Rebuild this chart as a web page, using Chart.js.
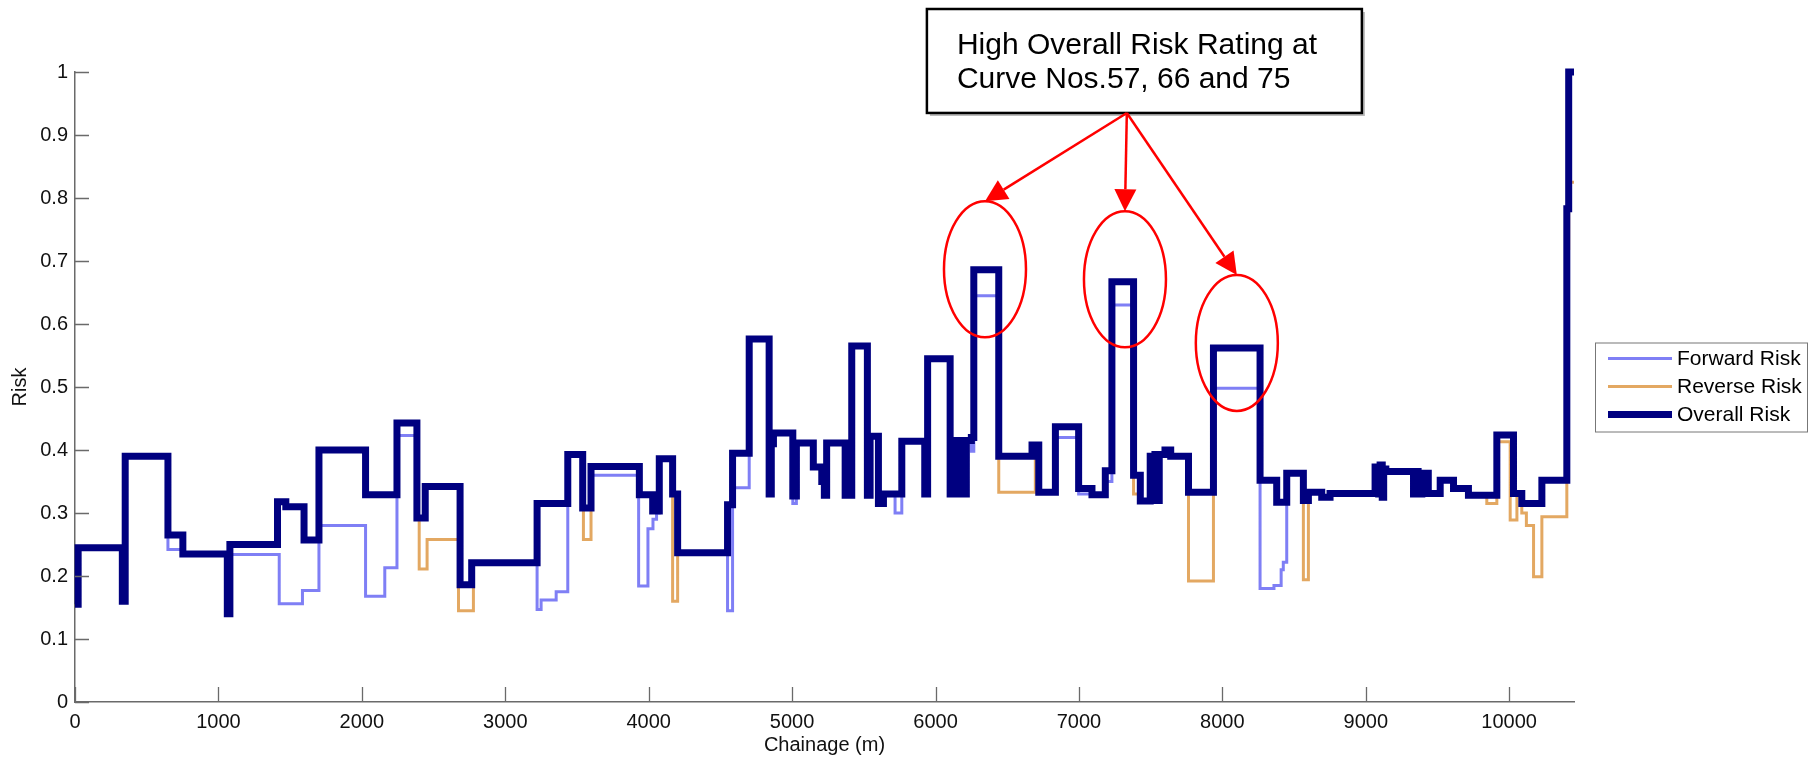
<!DOCTYPE html>
<html>
<head>
<meta charset="utf-8">
<script src="https://cdn.jsdelivr.net/npm/chart.js@4.4.1/dist/chart.umd.min.js"></script>
<style>
html,body{margin:0;padding:0;background:#ffffff;}
canvas{display:block;}
</style>
</head>
<body>
<canvas id="c" width="1817" height="759"></canvas>
<script>
// ---------------- data ----------------
const xTicks = [0, 1000, 2000, 3000, 4000, 5000, 6000, 7000, 8000, 9000, 10000];
const yTicks = [0, 0.1, 0.2, 0.3, 0.4, 0.5, 0.6, 0.7, 0.8, 0.9, 1];
const chainageEnd = 10452;
const seriesNames = ['Forward Risk', 'Reverse Risk', 'Overall Risk'];

// Forward risk: chainage where each step starts, and its value
const fwdX = [0, 22, 330, 350, 648, 752, 1062, 1080, 1424, 1586, 1701, 2026, 2160, 2245, 2384, 2442, 2685, 2766, 3222, 3250, 3355, 3436, 3540, 3598, 3930, 3995, 4030, 4055, 4074, 4167, 4202, 4550, 4585, 4701, 4840, 4855, 4870, 5005, 5030, 5148, 5207, 5225, 5241, 5370, 5416, 5525, 5544, 5602, 5637, 5718, 5765, 5925, 5945, 6102, 6120, 6140, 6160, 6195, 6215, 6250, 6267, 6441, 6673, 6720, 6836, 6998, 7091, 7184, 7230, 7381, 7428, 7497, 7510, 7530, 7545, 7560, 7600, 7640, 7764, 7938, 8263, 8360, 8410, 8425, 8449, 8565, 8600, 8693, 8751, 9065, 9090, 9100, 9115, 9125, 9140, 9333, 9350, 9365, 9391, 9436, 9519, 9612, 9716, 9914, 10030, 10088, 10228, 10402, 10415, 10452];
const fwdY = [0.155, 0.245, 0.16, 0.39, 0.242, 0.235, 0.14, 0.234, 0.156, 0.177, 0.28, 0.168, 0.213, 0.423, 0.292, 0.342, 0.186, 0.221, 0.147, 0.162, 0.175, 0.393, 0.308, 0.36, 0.184, 0.275, 0.29, 0.30, 0.386, 0.33, 0.237, 0.145, 0.34, 0.576, 0.33, 0.41, 0.427, 0.315, 0.411, 0.373, 0.35, 0.328, 0.411, 0.328, 0.565, 0.328, 0.422, 0.315, 0.33, 0.30, 0.414, 0.33, 0.545, 0.33, 0.415, 0.33, 0.415, 0.33, 0.415, 0.398, 0.645, 0.39, 0.408, 0.333, 0.42, 0.33, 0.329, 0.35, 0.63, 0.36, 0.319, 0.39, 0.33, 0.393, 0.32, 0.393, 0.40, 0.39, 0.333, 0.498, 0.18, 0.185, 0.21, 0.222, 0.363, 0.32, 0.333, 0.325, 0.331, 0.373, 0.33, 0.376, 0.325, 0.37, 0.366, 0.33, 0.366, 0.33, 0.363, 0.331, 0.352, 0.339, 0.328, 0.424, 0.331, 0.315, 0.352, 0.783, 1.0, 1.0];

// Reverse risk
const revX = [0, 22, 330, 350, 648, 752, 1062, 1080, 1412, 1470, 1597, 1701, 2026, 2245, 2384, 2400, 2455, 2674, 2778, 3222, 3436, 3545, 3598, 3935, 4028, 4074, 4167, 4202, 4550, 4585, 4701, 4840, 4855, 4870, 5005, 5030, 5148, 5207, 5225, 5241, 5370, 5416, 5525, 5544, 5602, 5637, 5765, 5925, 5945, 6102, 6120, 6140, 6160, 6195, 6215, 6250, 6267, 6441, 6696, 6720, 6836, 6998, 7091, 7184, 7230, 7381, 7428, 7497, 7510, 7530, 7545, 7560, 7600, 7640, 7764, 7938, 8263, 8379, 8449, 8565, 8600, 8693, 8751, 9065, 9090, 9100, 9115, 9125, 9140, 9333, 9350, 9365, 9391, 9436, 9519, 9612, 9716, 9844, 9914, 10007, 10054, 10088, 10120, 10170, 10228, 10402, 10415, 10452];
const revY = [0.155, 0.245, 0.16, 0.39, 0.265, 0.235, 0.14, 0.25, 0.318, 0.31, 0.257, 0.40, 0.329, 0.443, 0.292, 0.211, 0.258, 0.145, 0.221, 0.315, 0.393, 0.258, 0.374, 0.329, 0.303, 0.386, 0.16, 0.237, 0.313, 0.395, 0.576, 0.33, 0.41, 0.427, 0.327, 0.411, 0.373, 0.35, 0.328, 0.411, 0.328, 0.565, 0.328, 0.422, 0.315, 0.33, 0.414, 0.33, 0.545, 0.33, 0.415, 0.33, 0.415, 0.33, 0.415, 0.42, 0.686, 0.333, 0.408, 0.333, 0.437, 0.339, 0.329, 0.367, 0.667, 0.33, 0.319, 0.39, 0.33, 0.393, 0.32, 0.393, 0.40, 0.39, 0.192, 0.562, 0.352, 0.317, 0.363, 0.194, 0.333, 0.325, 0.331, 0.373, 0.33, 0.376, 0.325, 0.37, 0.366, 0.33, 0.366, 0.33, 0.363, 0.331, 0.352, 0.339, 0.328, 0.315, 0.413, 0.289, 0.331, 0.30, 0.28, 0.199, 0.294, 0.72, 0.825, 0.825];

// Overall risk
const allX = [0, 22, 330, 350, 648, 752, 1062, 1080, 1412, 1470, 1597, 1701, 2026, 2245, 2384, 2442, 2685, 2766, 3222, 3436, 3540, 3598, 3935, 4028, 4074, 4167, 4202, 4550, 4585, 4701, 4840, 4855, 4870, 5005, 5030, 5148, 5207, 5225, 5241, 5370, 5416, 5525, 5544, 5602, 5637, 5765, 5925, 5945, 6102, 6120, 6140, 6160, 6195, 6215, 6250, 6267, 6441, 6673, 6720, 6836, 6998, 7091, 7184, 7230, 7381, 7428, 7497, 7510, 7530, 7545, 7560, 7600, 7640, 7764, 7938, 8263, 8379, 8449, 8565, 8600, 8693, 8751, 9065, 9090, 9100, 9115, 9125, 9140, 9333, 9350, 9365, 9391, 9436, 9519, 9612, 9716, 9914, 10030, 10088, 10228, 10402, 10415, 10452];
const allY = [0.155, 0.245, 0.16, 0.39, 0.265, 0.235, 0.14, 0.25, 0.318, 0.31, 0.257, 0.40, 0.329, 0.443, 0.292, 0.342, 0.186, 0.221, 0.315, 0.393, 0.308, 0.374, 0.329, 0.303, 0.386, 0.33, 0.237, 0.313, 0.395, 0.576, 0.33, 0.41, 0.427, 0.327, 0.411, 0.373, 0.35, 0.328, 0.411, 0.328, 0.565, 0.328, 0.422, 0.315, 0.33, 0.414, 0.33, 0.545, 0.33, 0.415, 0.33, 0.415, 0.33, 0.415, 0.42, 0.686, 0.39, 0.408, 0.333, 0.437, 0.339, 0.329, 0.367, 0.667, 0.36, 0.319, 0.39, 0.33, 0.393, 0.32, 0.393, 0.40, 0.39, 0.333, 0.562, 0.352, 0.317, 0.363, 0.32, 0.333, 0.325, 0.331, 0.373, 0.33, 0.376, 0.325, 0.37, 0.366, 0.33, 0.366, 0.33, 0.363, 0.331, 0.352, 0.339, 0.328, 0.424, 0.331, 0.315, 0.352, 0.783, 1.0, 1.0];

// annotation text and the chainage/risk points it refers to
const calloutLines = ['High Overall Risk Rating at', 'Curve Nos.57, 66 and 75'];
const calloutCentres = [{x: 6345, y: 0.687}, {x: 7321, y: 0.671}, {x: 8101, y: 0.570}];

// ---------------- styling ----------------
const FONT = '"Liberation Sans", Arial, Helvetica, sans-serif';
const AXIS = '#6a6a6a';
const COLORS = ['#7f7ff5', '#e3a862', '#000080'];
const WIDTHS = [3, 3, 7];
const noteLayout = {
  boxLeft: 5940, boxRight: 8973, boxTop: 1.1, boxBottom: 0.935, arrowFromX: 7334,
  rx: 41, ry: 68
};

const toPts = (xs, ys) => xs.map((v, i) => ({x: v, y: ys[i]}));

const overlay = {
  id: 'overlay',
  afterDatasetsDraw(chart) {
    const {ctx, chartArea: ca, scales: {x, y}} = chart;
    ctx.save();
    // inward tick marks
    ctx.strokeStyle = AXIS;
    ctx.lineWidth = 1.3;
    ctx.beginPath();
    xTicks.forEach(t => {
      const px = Math.round(x.getPixelForValue(t)) + 0.5;
      ctx.moveTo(px, ca.bottom); ctx.lineTo(px, ca.bottom - 15);
    });
    yTicks.forEach(t => {
      const py = Math.round(y.getPixelForValue(t)) + 0.5;
      ctx.moveTo(ca.left, py); ctx.lineTo(ca.left + 14, py);
    });
    ctx.stroke();

    // callout box
    const bx = x.getPixelForValue(noteLayout.boxLeft), bx2 = x.getPixelForValue(noteLayout.boxRight);
    const by = y.getPixelForValue(noteLayout.boxTop), by2 = y.getPixelForValue(noteLayout.boxBottom);
    ctx.fillStyle = 'rgba(0,0,0,0.28)';
    ctx.fillRect(bx + 3, by + 3, bx2 - bx, by2 - by);
    ctx.fillStyle = '#ffffff';
    ctx.fillRect(bx, by, bx2 - bx, by2 - by);
    ctx.lineWidth = 2.5;
    ctx.strokeStyle = '#000000';
    ctx.strokeRect(bx, by, bx2 - bx, by2 - by);
    ctx.fillStyle = '#000000';
    ctx.font = '30px ' + FONT;
    ctx.textBaseline = 'alphabetic';
    ctx.textAlign = 'left';
    ctx.fillText(calloutLines[0], bx + 30, by + 45);
    ctx.fillText(calloutLines[1], bx + 30, by + 79);

    // ellipses and arrows
    const ox = x.getPixelForValue(noteLayout.arrowFromX), oy = by2;
    ctx.strokeStyle = '#ff0000';
    ctx.fillStyle = '#ff0000';
    ctx.lineWidth = 2.5;
    calloutCentres.forEach(c => {
      const cx = x.getPixelForValue(c.x), cy = y.getPixelForValue(c.y);
      ctx.beginPath();
      ctx.ellipse(cx, cy, noteLayout.rx, noteLayout.ry, 0, 0, Math.PI * 2);
      ctx.stroke();
      const tx = cx, ty = cy - noteLayout.ry;
      const ang = Math.atan2(ty - oy, tx - ox);
      const hl = 22, hw = 11;
      const bxp = tx - hl * Math.cos(ang), byp = ty - hl * Math.sin(ang);
      ctx.beginPath();
      ctx.moveTo(ox, oy); ctx.lineTo(bxp, byp);
      ctx.stroke();
      ctx.beginPath();
      ctx.moveTo(tx, ty);
      ctx.lineTo(bxp + hw * Math.sin(ang), byp - hw * Math.cos(ang));
      ctx.lineTo(bxp - hw * Math.sin(ang), byp + hw * Math.cos(ang));
      ctx.closePath();
      ctx.fill();
    });

    // legend
    const lw = 212, lh = 89;
    const lx = ca.right + 21, ly = (ca.top + ca.bottom) / 2 - lh / 2;
    ctx.fillStyle = '#ffffff';
    ctx.fillRect(lx, ly, lw, lh);
    ctx.strokeStyle = '#777777';
    ctx.lineWidth = 1;
    ctx.strokeRect(lx + 0.5, ly + 0.5, lw, lh);
    ctx.font = '21px ' + FONT;
    ctx.textBaseline = 'middle';
    seriesNames.forEach((name, i) => {
      const ry = ly + 16 + i * 28;
      ctx.strokeStyle = COLORS[i];
      ctx.lineWidth = WIDTHS[i];
      ctx.beginPath();
      ctx.moveTo(lx + 13, ry); ctx.lineTo(lx + 77, ry);
      ctx.stroke();
      ctx.fillStyle = '#000000';
      ctx.fillText(name, lx + 82, ry + 1);
    });
    ctx.restore();
  }
};

const mkSet = (i, xs, ys, order) => ({
  label: seriesNames[i],
  data: toPts(xs, ys),
  borderColor: COLORS[i],
  backgroundColor: COLORS[i],
  borderWidth: WIDTHS[i],
  stepped: 'before',
  pointRadius: 0,
  fill: false,
  clip: false,
  borderJoinStyle: 'miter',
  borderCapStyle: 'butt',
  order: order
});

new Chart(document.getElementById('c'), {
  type: 'line',
  data: {
    datasets: [
      mkSet(0, fwdX, fwdY, 2),
      mkSet(1, revX, revY, 1),
      mkSet(2, allX, allY, 0)
    ]
  },
  options: {
    responsive: false,
    devicePixelRatio: 1,
    animation: false,
    layout: {padding: {left: 0, right: 243, top: 72, bottom: 0}},
    plugins: {legend: {display: false}, tooltip: {enabled: false}},
    scales: {
      x: {
        type: 'linear',
        min: 0,
        max: chainageEnd,
        afterBuildTicks: s => { s.ticks = xTicks.map(v => ({value: v})); },
        afterFit: s => { s.height = 57; },
        grid: {display: false, drawTicks: false},
        border: {display: true, color: AXIS, width: 1.5},
        ticks: {color: '#111111', font: {family: FONT, size: 20}, padding: 8, maxRotation: 0, autoSkip: false,
                callback: v => String(v)},
        title: {display: true, text: 'Chainage (m)', color: '#111111', font: {family: FONT, size: 20},
                padding: {top: 0, bottom: 2}}
      },
      y: {
        type: 'linear',
        min: 0,
        max: 1,
        afterBuildTicks: s => { s.ticks = yTicks.map(v => ({value: v})); },
        afterFit: s => { s.width = 75; },
        grid: {display: false, drawTicks: false},
        border: {display: true, color: AXIS, width: 1.5},
        ticks: {color: '#111111', font: {family: FONT, size: 20}, padding: 7, autoSkip: false,
                callback: v => String(v)},
        title: {display: true, text: 'Risk', color: '#111111', font: {family: FONT, size: 20},
                padding: {top: 8, bottom: 0}}
      }
    }
  },
  plugins: [overlay]
});
</script>
</body>
</html>
